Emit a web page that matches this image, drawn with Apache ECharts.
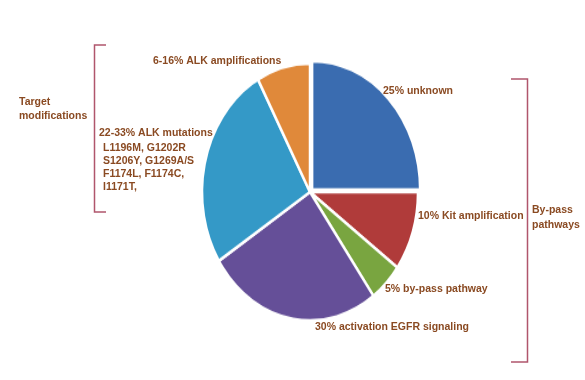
<!DOCTYPE html>
<html>
<head>
<meta charset="utf-8">
<script src="https://cdn.jsdelivr.net/npm/echarts@6/dist/echarts.min.js"></script>
<style>
html,body{margin:0;padding:0;background:#fff;}
#wrap{position:relative;width:585px;height:380px;overflow:hidden;}
#pie{position:absolute;left:0;top:0;width:585px;height:380px;transform:scaleY(1.19);transform-origin:310px 192px;}
#txt{position:absolute;left:0;top:0;width:585px;height:380px;}
</style>
</head>
<body>
<div id="wrap"><div id="pie"></div><div id="txt"></div></div>
<script>
// Data
const categories = ['25% unknown', '10% Kit amplification', '5% by-pass pathway', '30% activation EGFR signaling', '22-33% ALK mutations', '6-16% ALK amplifications'];
const values = [25, 10, 5, 26, 26, 8];
const colors = ['#3a6cb0', '#b03b3a', '#79a540', '#654f98', '#3499c7', '#e0893a'];
const mutationLines = ['L1196M, G1202R', 'S1206Y, G1269A/S', 'F1174L, F1174C,', 'I1171T,'];
const groupLeft = ['Target', 'modifications'];
const groupRight = ['By-pass', 'pathways'];

const pieChart = echarts.init(document.getElementById('pie'), null, {renderer: 'canvas'});
pieChart.setOption({
  animation: false,
  series: [{
    type: 'pie',
    center: [310, 192],
    radius: 108,
    startAngle: 90,
    clockwise: true,
    selectedMode: 'single',
    selectedOffset: 3,
    label: {show: false},
    labelLine: {show: false},
    emphasis: {disabled: true},
    itemStyle: {borderColor: '#ffffff', borderWidth: 2.5},
    data: categories.map((c, i) => ({
      name: c, value: values[i], selected: i === 0,
      itemStyle: {color: colors[i]}
    }))
  }]
});

const txtColor = '#8a4a22';
const brColor = '#b0566c';
const font = 'bold 10.5px "Liberation Sans", Arial, sans-serif';
function t(x, y, s) {
  return {type: 'text', x: x, y: y, style: {text: s, fill: txtColor, font: font, textVerticalAlign: 'middle'}};
}
const g = [];
g.push(t(153, 61, categories[5]));
g.push(t(383, 91, categories[0]));
g.push(t(418, 216, categories[1]));
g.push(t(385, 289, categories[2]));
g.push(t(315, 327, categories[3]));
g.push(t(99, 133, categories[4]));
mutationLines.forEach((s, i) => g.push(t(103, 148 + i * 13, s)));
groupLeft.forEach((s, i) => g.push(t(19, 102 + i * 14.5, s)));
groupRight.forEach((s, i) => g.push(t(532, 210 + i * 15.5, s)));
g.push({type: 'polyline', shape: {points: [[106, 45], [94.5, 45], [94.5, 212], [106, 212]]}, style: {stroke: brColor, lineWidth: 1.5, fill: null}});
g.push({type: 'polyline', shape: {points: [[511, 79], [527.5, 79], [527.5, 362], [511, 362]]}, style: {stroke: brColor, lineWidth: 1.5, fill: null}});

const txtChart = echarts.init(document.getElementById('txt'), null, {renderer: 'canvas'});
txtChart.setOption({animation: false, graphic: g});
</script>
</body>
</html>
